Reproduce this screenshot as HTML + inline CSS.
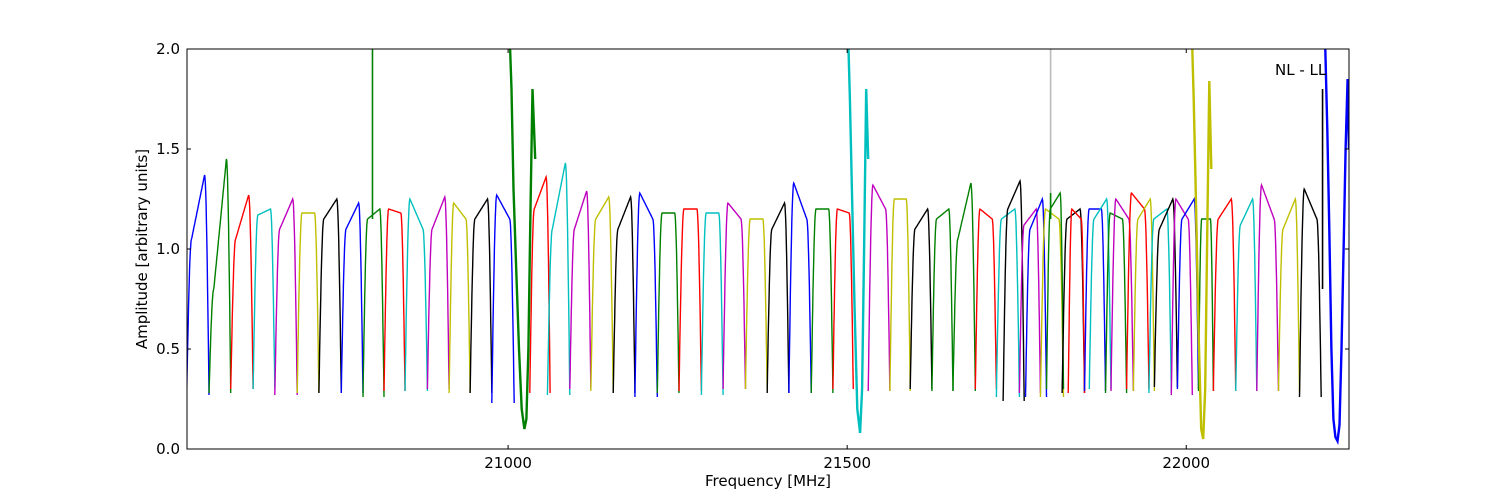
<!DOCTYPE html>
<html><head><meta charset="utf-8">
<style>
html,body{margin:0;padding:0;background:#fff;}
svg{display:block;font-family:"DejaVu Sans","Liberation Sans",sans-serif;}
</style></head>
<body>
<svg id="chart" width="1500" height="500" viewBox="0 0 1500 500">
  <defs><clipPath id="pc"><rect x="187" y="49" width="1162" height="400"/></clipPath></defs>
  <g id="plot" clip-path="url(#pc)"></g>
  <rect x="187" y="49" width="1162" height="400" fill="none" stroke="#000" stroke-width="1"/>
  <g id="ticks"></g>
  <text x="1275" y="75" font-size="15">NL - LL</text>
  <text x="768" y="486" font-size="15" text-anchor="middle">Frequency [MHz]</text>
  <text transform="translate(147,249) rotate(-90)" font-size="15" text-anchor="middle">Amplitude [arbitrary units]</text>
</svg>
<script>
const bandStart = [20526,20559,20591,20624,20656,20689,20721,20754,20786,20817,20848,20881,20913,20944,20976,21032,21058,21091,21122,21155,21187,21220,21252,21285,21317,21350,21382,21414,21447,21479,21531,21563,21593,21625,21656,21689,21720,21730,21754,21763,21785,21794,21817,21826,21850,21857,21881,21889,21912,21922,21945,21953,21978,21987,22018,22040,22073,22104,22136,22167];
const bandEnd   = [20559,20591,20624,20656,20689,20721,20754,20786,20817,20848,20881,20913,20944,20976,21009,21062,21091,21122,21155,21187,21220,21252,21285,21317,21350,21382,21414,21447,21479,21509,21563,21593,21625,21656,21689,21720,21754,21761,21785,21794,21819,21819,21850,21850,21881,21889,21912,21922,21945,21953,21978,21987,22009,22018,22040,22073,22104,22136,22167,22199];
const peakLeft  = [1.05,0.80,1.05,1.17,1.10,1.18,1.15,1.10,1.15,1.20,1.25,1.10,1.23,1.15,1.27,1.20,1.10,1.10,1.15,1.10,1.28,1.18,1.20,1.18,1.23,1.15,1.10,1.33,1.20,1.20,1.32,1.25,1.10,1.15,1.05,1.20,1.15,1.20,1.12,1.10,1.20,1.20,1.15,1.20,1.20,1.15,1.18,1.25,1.28,1.15,1.15,1.10,1.25,1.15,1.15,1.15,1.12,1.32,1.10,1.30];
const peakRight = [1.37,1.45,1.27,1.20,1.25,1.18,1.25,1.23,1.20,1.18,1.10,1.26,1.15,1.25,1.15,1.36,1.43,1.29,1.26,1.26,1.15,1.18,1.20,1.18,1.15,1.15,1.23,1.15,1.20,1.18,1.20,1.25,1.20,1.20,1.33,1.15,1.20,1.34,1.20,1.25,1.15,1.28,1.20,1.15,1.20,1.25,1.15,1.15,1.20,1.25,1.20,1.25,1.15,1.25,1.15,1.25,1.25,1.15,1.25,1.15];
const bandMin   = [0.27,0.28,0.30,0.30,0.27,0.28,0.28,0.28,0.26,0.29,0.29,0.30,0.28,0.28,0.23,0.28,0.27,0.30,0.29,0.28,0.26,0.28,0.29,0.27,0.30,0.30,0.28,0.28,0.28,0.30,0.29,0.29,0.30,0.29,0.29,0.30,0.26,0.24,0.28,0.26,0.26,0.30,0.28,0.28,0.29,0.30,0.28,0.29,0.30,0.29,0.28,0.31,0.27,0.30,0.29,0.29,0.29,0.29,0.29,0.26];
const colorCycle = ['#0000ff','#008000','#ff0000','#00bfbf','#bf00bf','#bfbf00','#000000'];
const bandColorIdx = [0,1,2,3,4,5,6,0,1,2,3,4,5,6,0,2,3,4,5,6,0,1,2,3,4,5,6,0,1,2,4,5,6,1,1,2,3,6,4,0,5,1,6,2,0,3,1,4,2,5,3,6,4,0,1,2,3,4,5,6];
const dipColor = ['#008000','#00bfbf','#bfbf00','#0000ff'];
const dipFreqs = [
  [21003,21005,21008,21012,21016,21020,21024,21027,21030,21033,21036,21040],
  [21502,21504,21507,21511,21515,21519,21522,21525,21528,21531],
  [22009,22011,22014,22018,22022,22025,22028,22031,22034,22037],
  [22205,22208,22211,22214,22217,22220,22223,22226,22229,22232,22235,22238,22240]
];
const dipVals = [
  [2.0,1.8,1.3,0.9,0.5,0.2,0.1,0.15,0.5,1.2,1.8,1.45],
  [2.0,1.75,1.3,0.7,0.2,0.08,0.3,1.0,1.8,1.45],
  [2.0,1.75,1.3,0.6,0.1,0.05,0.3,1.1,1.84,1.4],
  [2.0,1.6,1.1,0.5,0.15,0.06,0.04,0.12,0.5,1.0,1.5,1.85,1.5]
];
const spikeFreq = [20800,21800,21800,22201];
const spikeBase = [1.15,1.18,1.15,0.8];
const spikeTop  = [2.0,2.0,1.28,1.8];
const spikeColor = ['#008000','#bbbbbb','#008000','#000000'];
const xTicks = [21000,21500,22000];
const yTicks = [0.0,0.5,1.0,1.5,2.0];

const X0=187,X1=1349,Y0=449,Y1=49,FMIN=20526.5,FMAX=22240,AMIN=0,AMAX=2;
const xs=f=>X0+(f-FMIN)/(FMAX-FMIN)*(X1-X0);
const ys=v=>Y0-(v-AMIN)/(AMAX-AMIN)*(Y0-Y1);
const NS='http://www.w3.org/2000/svg';
const plot=document.getElementById('plot');
const ticks=document.getElementById('ticks');

function shape(t,mn,pl,pr){
  const a=0.22,b=0.80;
  if(t<a){const u=t/a;return mn+(pl-mn)*Math.sin(u*Math.PI/2);}
  if(t>b){const u=(1-t)/(1-b);return mn+(pr-mn)*Math.sin(u*Math.PI/2);}
  const u=(t-a)/(b-a);return pl+(pr-pl)*u;
}
for(let i=0;i<bandStart.length;i++){
  const pts=[];
  for(let k=0;k<=60;k++){
    const t=k/60;const f=bandStart[i]+(bandEnd[i]-bandStart[i])*t;
    pts.push(xs(f).toFixed(1)+','+ys(shape(t,bandMin[i],peakLeft[i],peakRight[i])).toFixed(1));
  }
  const p=document.createElementNS(NS,'polyline');
  p.setAttribute('points',pts.join(' '));
  p.setAttribute('fill','none');
  p.setAttribute('stroke',colorCycle[bandColorIdx[i]]);
  p.setAttribute('stroke-width','1.4');
  
  
  plot.appendChild(p);
}
for(let i=0;i<dipFreqs.length;i++){
  const pts=dipFreqs[i].map((f,j)=>xs(f).toFixed(1)+','+ys(dipVals[i][j]).toFixed(1));
  const p=document.createElementNS(NS,'polyline');
  p.setAttribute('points',pts.join(' '));
  p.setAttribute('fill','none');
  p.setAttribute('stroke',dipColor[i]);
  p.setAttribute('stroke-width','2.4');
  
  
  plot.appendChild(p);
}
for(let i=0;i<spikeFreq.length;i++){
  const l=document.createElementNS(NS,'line');
  l.setAttribute('x1',xs(spikeFreq[i]));l.setAttribute('x2',xs(spikeFreq[i]));
  l.setAttribute('y1',ys(spikeBase[i]));l.setAttribute('y2',ys(spikeTop[i]));
  l.setAttribute('stroke',spikeColor[i]);l.setAttribute('stroke-width','1.6');
  
  
  plot.appendChild(l);
}
function mk(tag,attrs){const e=document.createElementNS(NS,tag);for(const k in attrs)e.setAttribute(k,attrs[k]);return e;}
xTicks.forEach(v=>{
  const x=xs(v);
  const a=mk('line',{x1:x,x2:x,y1:Y0,y2:Y0-4,stroke:'#000'});
  
  
  ticks.appendChild(a);
  const b=mk('line',{x1:x,x2:x,y1:Y1,y2:Y1+4,stroke:'#000'});
  
  
  ticks.appendChild(b);
  const t=mk('text',{x:x,y:Y0+19,'font-size':15,'text-anchor':'middle'});
  t.textContent=v;
  
  
  ticks.appendChild(t);
});
yTicks.forEach(v=>{
  const y=ys(v);
  const a=mk('line',{x1:X0,x2:X0+4,y1:y,y2:y,stroke:'#000'});
  
  
  ticks.appendChild(a);
  const b=mk('line',{x1:X1,x2:X1-4,y1:y,y2:y,stroke:'#000'});
  
  
  ticks.appendChild(b);
  const t=mk('text',{x:X0-7,y:y+5,'font-size':15,'text-anchor':'end'});
  t.textContent=v.toFixed(1);
  
  
  ticks.appendChild(t);
});
</script>
</body></html>
